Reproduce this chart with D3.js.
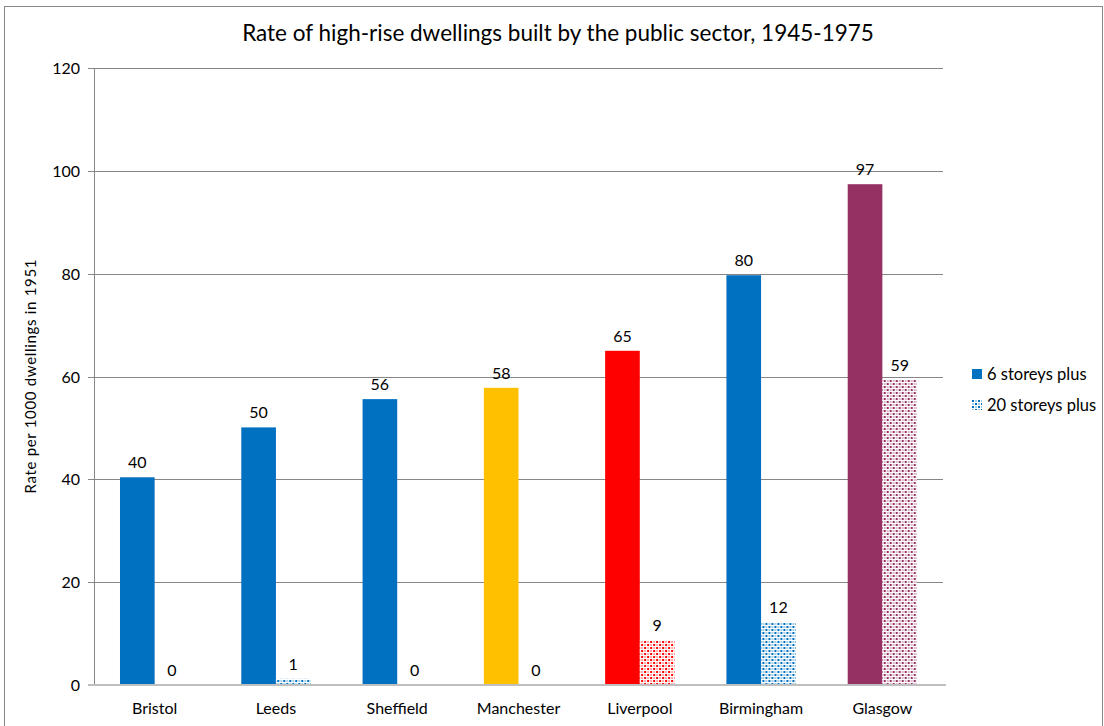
<!DOCTYPE html>
<html>
<head>
<meta charset="utf-8">
<script src="https://cdn.jsdelivr.net/npm/d3@7"></script>
<style>
  body { margin: 0; background: #fff; }
  text { font-family: Lato, "Open Sans", sans-serif; fill: #000; }
</style>
</head>
<body>
<div id="chart"></div>
<script>
// Chart data
var cities = ["Bristol", "Leeds", "Sheffield", "Manchester", "Liverpool", "Birmingham", "Glasgow"];
var series = ["6 storeys plus", "20 storeys plus"];
var sixPlus = [40.4, 50.1, 55.6, 57.8, 65.0, 79.7, 97.4];
var twentyPlus = [0, 1.2, 0, 0, 8.7, 12.2, 59.4];
var cityColors = ["#0070C0", "#0070C0", "#0070C0", "#FFC000", "#FF0000", "#0070C0", "#953163"];
var yTicks = [0, 20, 40, 60, 80, 100, 120];

var svgWidth = 1104;
var svgHeight = 726;

var margin = { top: 68, right: 161, bottom: 41, left: 94 };
var width = svgWidth - margin.left - margin.right;
var height = svgHeight - margin.top - margin.bottom;

var svg = d3.select("#chart")
  .append("svg")
  .attr("width", svgWidth)
  .attr("height", svgHeight);

// outer chart border
svg.append("rect")
  .attr("x", 4.5).attr("y", 6.5)
  .attr("width", svgWidth - 6).attr("height", svgHeight - 4)
  .attr("fill", "none")
  .attr("stroke", "#868686");

// dotted fill patterns, one per colour
var defs = svg.append("defs");
var patColors = Array.from(new Set(cityColors));
patColors.forEach(function (c) {
  var p = defs.append("pattern")
    .attr("id", "dots" + c.slice(1))
    .attr("patternUnits", "userSpaceOnUse")
    .attr("width", 6).attr("height", 6);
  p.append("rect").attr("width", 6).attr("height", 6).attr("fill", "#fff");
  p.append("rect").attr("x", 0).attr("y", 0).attr("width", 2).attr("height", 2).attr("fill", c);
  p.append("rect").attr("x", 3).attr("y", 3).attr("width", 2).attr("height", 2).attr("fill", c);
  p.append("rect").attr("x", 3).attr("y", 0).attr("width", 2).attr("height", 2).attr("fill", c).attr("opacity", 0.35);
  p.append("rect").attr("x", 0).attr("y", 3).attr("width", 2).attr("height", 2).attr("fill", c).attr("opacity", 0.35);
});

var chartGroup = svg.append("g")
  .attr("transform", `translate(${margin.left}, ${margin.top})`);

// Scales (gap width 150% of a bar)
var xScale = d3.scaleBand()
  .domain(cities)
  .range([0, width])
  .paddingInner(1.5 / 3.5)
  .paddingOuter(0.75 / 3.5);

var xInner = d3.scaleBand()
  .domain(series)
  .range([0, xScale.bandwidth()]);

var yScale = d3.scaleLinear()
  .domain([0, 120])
  .range([height, 0]);

// Gridlines
chartGroup.append("g")
  .selectAll("line")
  .data(yTicks.slice(1))
  .enter()
  .append("line")
  .attr("x1", -6)
  .attr("x2", width)
  .attr("y1", d => Math.round(yScale(d)) + 0.5)
  .attr("y2", d => Math.round(yScale(d)) + 0.5)
  .attr("stroke", "#868686")
  .attr("stroke-width", 1);

// Left axis
var leftAxis = d3.axisLeft(yScale).tickValues(yTicks).tickSize(0).tickPadding(14);
var yAxisG = chartGroup.append("g").call(leftAxis);
yAxisG.select(".domain").attr("stroke", "#868686");
yAxisG.selectAll("text").attr("font-size", "16px").attr("dy", "0.35em");

// Bars
var groups = chartGroup.selectAll(".city")
  .data(cities)
  .enter()
  .append("g")
  .attr("class", "city")
  .attr("transform", d => `translate(${xScale(d)}, 0)`);

groups.append("rect")
  .attr("x", xInner(series[0]))
  .attr("y", (d, i) => yScale(sixPlus[i]))
  .attr("width", xInner.bandwidth())
  .attr("height", (d, i) => height - yScale(sixPlus[i]))
  .attr("fill", (d, i) => cityColors[i]);

groups.append("rect")
  .attr("x", xInner(series[1]))
  .attr("y", (d, i) => yScale(twentyPlus[i]))
  .attr("width", xInner.bandwidth())
  .attr("height", (d, i) => height - yScale(twentyPlus[i]))
  .attr("fill", (d, i) => "url(#dots" + cityColors[i].slice(1) + ")");

// Value labels
groups.append("text")
  .attr("x", xInner(series[0]) + xInner.bandwidth() / 2)
  .attr("y", (d, i) => yScale(sixPlus[i]) - 9)
  .attr("text-anchor", "middle")
  .attr("font-size", "16px")
  .text((d, i) => Math.round(sixPlus[i]));

groups.append("text")
  .attr("x", xInner(series[1]) + xInner.bandwidth() / 2)
  .attr("y", (d, i) => yScale(twentyPlus[i]) - 9)
  .attr("text-anchor", "middle")
  .attr("font-size", "16px")
  .text((d, i) => Math.round(twentyPlus[i]));

// Bottom axis
var bottomAxis = d3.axisBottom(xScale).tickSize(0).tickPadding(18);
var xAxisG = chartGroup.append("g")
  .attr("transform", `translate(0,${height})`)
  .call(bottomAxis);
xAxisG.select(".domain").attr("stroke", "#bfbfbf").attr("stroke-width", 2).attr("d", `M-6,0H${width + 3}`);
xAxisG.selectAll("text").attr("font-size", "16px");

// Axis label
chartGroup.append("text")
  .attr("transform", "rotate(-90)")
  .attr("y", -58)
  .attr("x", -height / 2)
  .attr("text-anchor", "middle")
  .attr("font-size", "15px")
  .attr("textLength", 234)
  .attr("lengthAdjust", "spacing")
  .text("Rate per 1000 dwellings in 1951");

// Title
svg.append("text")
  .attr("x", 558)
  .attr("y", 41)
  .attr("text-anchor", "middle")
  .attr("font-size", "22.5px")
  .text("Rate of high-rise dwellings built by the public sector, 1945-1975");

// Legend
var legend = svg.append("g").attr("transform", "translate(972, 369)");
series.forEach(function (s, i) {
  var row = legend.append("g").attr("transform", `translate(0, ${i * 31})`);
  row.append("rect")
    .attr("width", 10).attr("height", 10)
    .attr("fill", i === 0 ? "#0070C0" : "url(#dots0070C0)");
  row.append("text")
    .attr("x", 15).attr("y", 10.5)
    .attr("font-size", "16.5px")
    .text(s);
});
</script>
</body>
</html>
